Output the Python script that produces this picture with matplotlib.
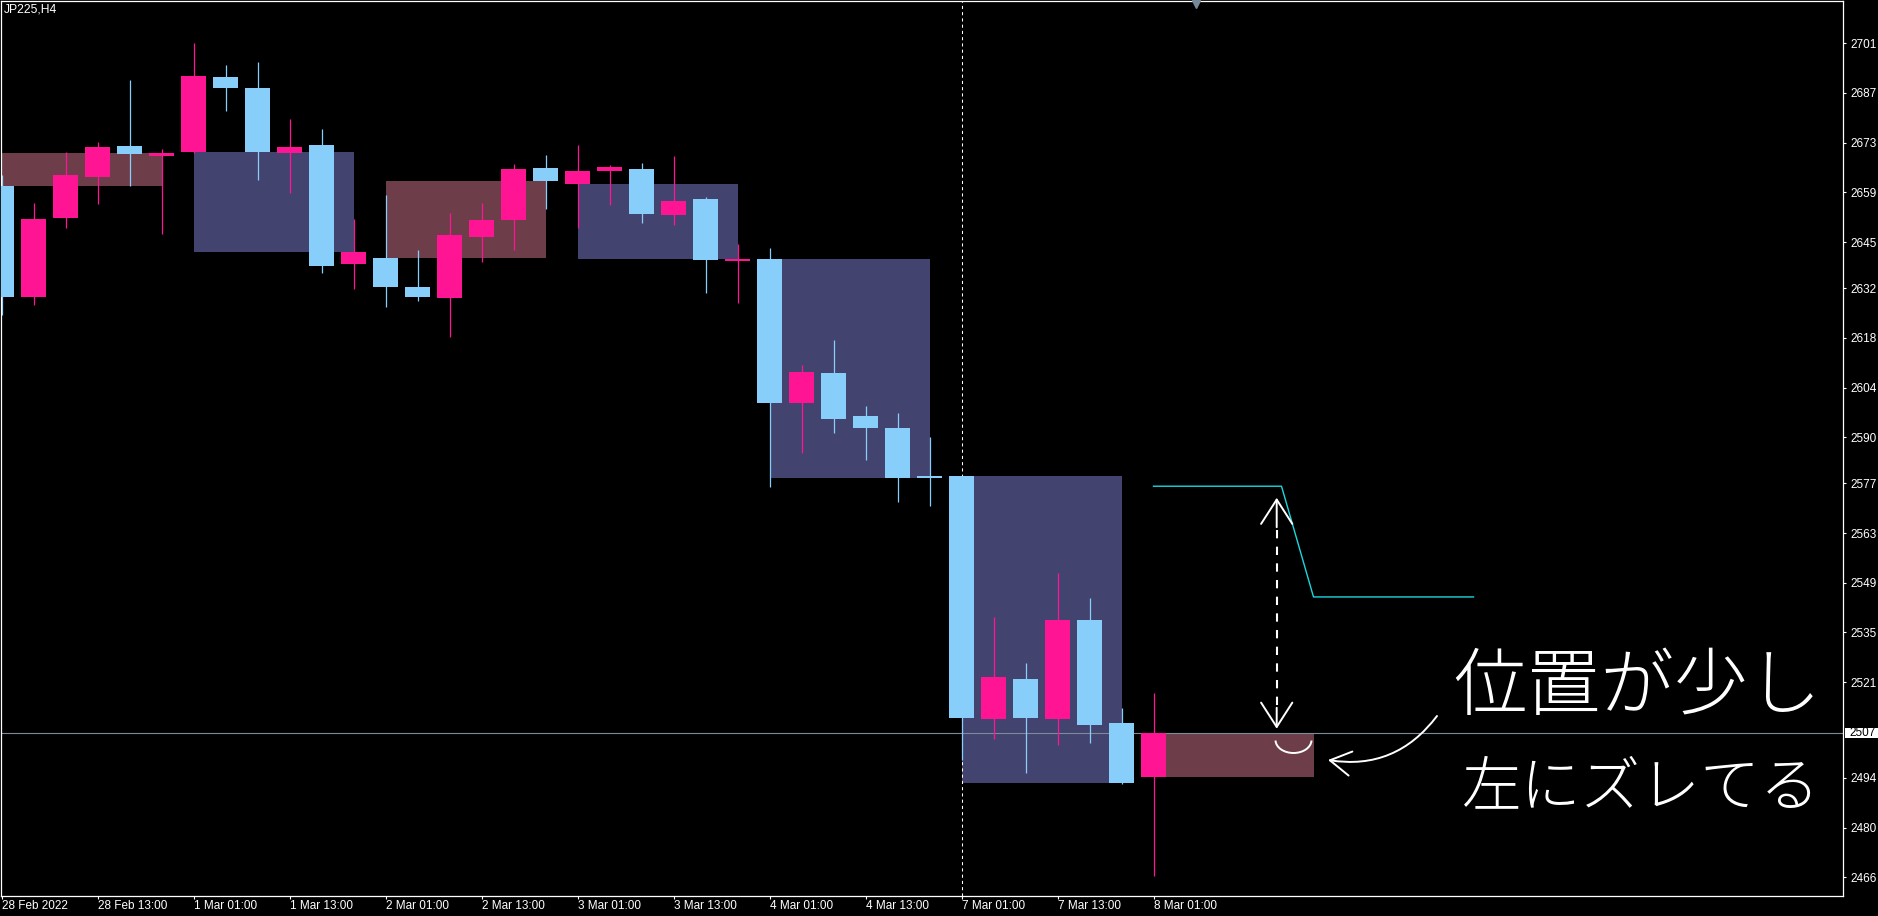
import matplotlib
matplotlib.use("Agg")
import matplotlib.pyplot as plt
from matplotlib.patches import Rectangle, Arc
from matplotlib.transforms import blended_transform_factory

# ---------------- data (JP225, H4) ----------------
symbol_label = "JP225,H4"
opens = [2660.8, 2629.6, 2651.9, 2663.4, 2672.1, 2669.2,
         2670.5, 2691.5, 2688.4, 2670.1, 2672.3, 2638.8,
         2640.5, 2632.3, 2629.2, 2646.4, 2651.3, 2665.9,
         2661.4, 2665.0, 2665.6, 2652.6, 2657.1, 2639.7,
         2640.2, 2599.7, 2608.1, 2596.0, 2592.6, 2579.1,
         2579.1, 2510.7, 2521.9, 2510.7, 2538.5, 2509.5,
         2494.4]
highs = [2663.9, 2656.0, 2670.4, 2673.2, 2690.7, 2671.2,
         2701.1, 2694.9, 2695.7, 2679.7, 2676.9, 2651.5,
         2658.3, 2642.8, 2653.2, 2656.0, 2667.0, 2669.5,
         2672.3, 2666.7, 2667.3, 2669.2, 2657.7, 2644.5,
         2643.3, 2610.4, 2617.4, 2598.8, 2596.8, 2590.1,
         2579.1, 2539.3, 2526.4, 2551.7, 2544.7, 2513.7,
         2517.9]
lows = [2624.5, 2627.3, 2649.0, 2655.8, 2660.9, 2647.4,
        2670.1, 2682.0, 2662.5, 2658.9, 2636.4, 2631.8,
        2626.7, 2628.4, 2618.2, 2639.4, 2642.8, 2654.3,
        2649.0, 2655.4, 2650.4, 2649.8, 2630.6, 2627.8,
        2576.0, 2585.6, 2591.2, 2583.6, 2571.8, 2570.6,
        2499.1, 2505.0, 2495.5, 2503.4, 2503.9, 2492.4,
        2466.5]
closes = [2629.6, 2651.5, 2663.9, 2671.8, 2669.8, 2670.1,
          2691.8, 2688.4, 2670.5, 2671.8, 2638.3, 2642.2,
          2632.3, 2629.5, 2647.0, 2651.2, 2665.6, 2662.2,
          2665.0, 2666.1, 2652.9, 2656.6, 2639.9, 2640.2,
          2599.7, 2608.4, 2595.1, 2592.6, 2578.5, 2578.5,
          2511.0, 2522.4, 2511.0, 2538.5, 2509.0, 2492.7,
          2506.6]
bars_per_day = 6

# indicator line (cyan), bar index and value
ind_index = [36, 37, 38, 39, 40, 41, 42, 43, 44, 45, 46]
ind_values = [2576.2, 2576.2, 2576.2, 2576.2, 2576.2,
              2545.0, 2545.0, 2545.0, 2545.0, 2545.0, 2545.0]

# time axis
xtick_index = [0, 3, 6, 9, 12, 15, 18, 21, 24, 27, 30, 33, 36]
xtick_labels = ["28 Feb 2022", "28 Feb 13:00", "1 Mar 01:00", "1 Mar 13:00",
                "2 Mar 01:00", "2 Mar 13:00", "3 Mar 01:00", "3 Mar 13:00",
                "4 Mar 01:00", "4 Mar 13:00", "7 Mar 01:00", "7 Mar 13:00",
                "8 Mar 01:00"]
ytick_values = [2701, 2687, 2673, 2659, 2645, 2632, 2618, 2604, 2590,
                2577, 2563, 2549, 2535, 2521, 2494, 2480, 2466]
separator_index = 30

# annotation (handwritten note)
note_line1 = "位置が少し"
note_line2 = "左にズレてる"

# ---------------- style ----------------
BULL = "#FF1493"
BEAR = "#87CEFA"
BOX_BULL = "#6D3E4A"
BOX_BEAR = "#434370"
CYAN = "#19D8E0"
PRICE_LINE = "#7C8A9A"
FG = "white"
TICK_FONT = ["Liberation Sans", "DejaVu Sans"]

W, H, DPI = 1878, 916, 100
L, R, T, B = 1, 1843, 1, 896           # plot frame in pixels
PX_PER_BAR = 32.0
X0 = 1.5                               # pixel centre of bar 0
PX_PER_PT = 3.549                      # pixels per price unit
Y_REF_PX, Y_REF_PRICE = 43.3, 2701.0

def px_to_bar(x):
    return (x - X0) / PX_PER_BAR

def px_to_price(y):
    return Y_REF_PRICE - (y - Y_REF_PX) / PX_PER_PT

fig = plt.figure(figsize=(W / DPI, H / DPI), dpi=DPI, facecolor="black")
ax = fig.add_axes([L / W, (H - B) / H, (R - L) / W, (B - T) / H])
ax.set_facecolor("black")
ax.set_xlim(px_to_bar(L), px_to_bar(R))
ax.set_ylim(px_to_price(B), px_to_price(T))

n = len(opens)
idx = list(range(n))

# ---- daily open/close zones ----
for d0 in range(0, n, bars_per_day):
    d1 = d0 + bars_per_day - 1
    o = opens[d0]
    c = closes[min(d1, n - 1)]
    col = BOX_BULL if c > o else BOX_BEAR
    ax.add_patch(Rectangle((d0, min(o, c)), d1 - d0, abs(c - o),
                           facecolor=col, edgecolor="none", zorder=1))

# ---- separator & current price line ----
ax.axvline(separator_index, color=FG, lw=0.75, ls=(0, (3, 3)), zorder=1.5)
last = closes[-1]
ax.axhline(last, color=PRICE_LINE, lw=0.8, zorder=1.6)

# ---- candles ----
min_h = 1.0 / PX_PER_PT
for i in idx:
    o, h, l, c = opens[i], highs[i], lows[i], closes[i]
    col = BULL if c > o else BEAR
    ax.vlines(i, l, h, color=col, lw=0.9, zorder=2)
    ax.bar(i, max(abs(c - o), min_h), bottom=min(o, c), width=0.78,
           color=col, edgecolor="none", linewidth=0, zorder=3)

# ---- indicator ----
ax.plot(ind_index, ind_values, color=CYAN, lw=1.0, zorder=4)

# ---- axes styling ----
for s in ax.spines.values():
    s.set_color(FG)
    s.set_linewidth(0.9)
ax.yaxis.tick_right()
ax.set_yticks(ytick_values)
ax.set_yticklabels([str(v) for v in ytick_values])
ax.set_xticks(xtick_index)
ax.set_xticklabels(xtick_labels, ha="left")
ax.tick_params(axis="y", colors=FG, length=2.2, width=0.8, pad=3,
               labelsize=8.5, right=True, left=False)
ax.tick_params(axis="x", colors=FG, length=2.2, width=0.8, pad=0.8,
               labelsize=8.5)
for lab in ax.get_xticklabels() + ax.get_yticklabels():
    lab.set_family(TICK_FONT)
    lab.set_color(FG)

# current price label on the axis
tr = blended_transform_factory(ax.transAxes, ax.transData)
px_ax = 1.0 / (R - L)
ax.add_patch(Rectangle((1 + 2 * px_ax, last - 5 / PX_PER_PT), 40 * px_ax,
                       10 / PX_PER_PT, transform=tr, facecolor="white",
                       edgecolor="none", clip_on=False, zorder=5))
ax.text(1 + 6.5 * px_ax, last, f"{last:.0f}", transform=tr, color="black",
        fontsize=8.5, family=TICK_FONT, va="center", ha="left",
        clip_on=False, zorder=6)

# chart-shift marker
ax.plot([(1196.3 - L) * px_ax], [1 - 3 / (B - T)], marker="v", ms=6,
        color="#778899", transform=ax.transAxes, clip_on=False, zorder=6)

# symbol label
fig.text(4 / W, 1 - 3.5 / H, symbol_label, color=FG, fontsize=8.7,
         family=TICK_FONT, va="top", ha="left")

# ---- handwritten-style annotations ----
ax_x = px_to_bar(1276.7)
top_tip, bot_tip = px_to_price(495), px_to_price(731.5)
ax.plot([ax_x, ax_x], [px_to_price(530), px_to_price(705)], color=FG,
        lw=1.5, ls=(0, (4, 4)), zorder=7)
arrow_kw = dict(arrowstyle="->,head_length=0.7,head_width=0.45", color=FG,
                lw=1.4, mutation_scale=25)
ax.annotate("", xy=(ax_x, top_tip), xytext=(ax_x, px_to_price(530)),
            arrowprops=arrow_kw, zorder=7)
ax.annotate("", xy=(ax_x, bot_tip), xytext=(ax_x, px_to_price(705)),
            arrowprops=arrow_kw, zorder=7)
ax.add_patch(Arc((px_to_bar(1293.5), px_to_price(740)), 36 / PX_PER_BAR,
                 2 * 13 / PX_PER_PT, theta1=195, theta2=345, color=FG,
                 lw=1.4, zorder=7))
ax.annotate("", xy=(px_to_bar(1328), px_to_price(760)),
            xytext=(px_to_bar(1437), px_to_price(716)),
            arrowprops=dict(arrowstyle="->,head_length=0.6,head_width=0.35",
                            color=FG, lw=1.4, mutation_scale=25,
                            connectionstyle="arc3,rad=-0.3",
                            shrinkA=0, shrinkB=0), zorder=7)
note_font = ["Noto Sans CJK JP", "DejaVu Sans"]
ax.text(px_to_bar(1637), px_to_price(689), note_line1, color=FG,
        fontsize=53, family=note_font, fontweight="light",
        ha="center", va="center", zorder=7)
ax.text(px_to_bar(1641), px_to_price(789), note_line2, color=FG,
        fontsize=43, family=note_font, fontweight="light",
        ha="center", va="center", zorder=7)

fig.savefig("out.png", dpi=DPI, facecolor="black")
